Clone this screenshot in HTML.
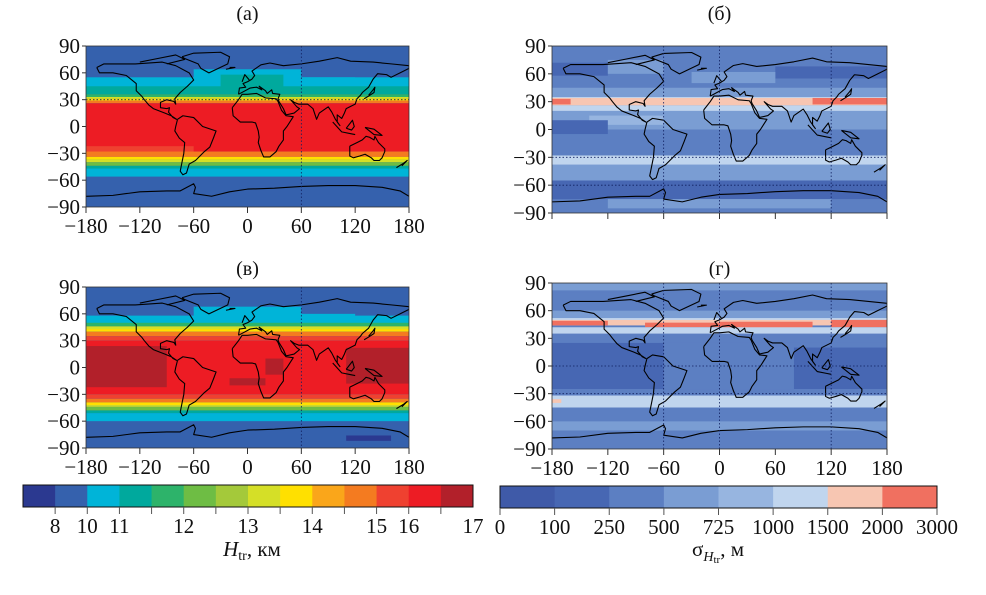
<!DOCTYPE html>
<html><head><meta charset="utf-8">
<style>
html,body{margin:0;padding:0;background:#fff;}
svg{display:block;}
svg text{font-family:"Liberation Serif","Times New Roman",serif;}
</style></head>
<body>
<svg id="fig" width="986" height="595" viewBox="0 0 986 595" xmlns="http://www.w3.org/2000/svg" font-family="Liberation Serif, serif"></svg>
<script>
// ---------- data ----------
const hColors=["#2b3990","#3561ad","#00b4d8","#00a99d","#2db36a","#6ebd44","#a4c93a","#d5df27","#ffe000","#faa61a","#f47b20","#ef4130","#ed1c24","#b2202a"];
const hTickLabels=["","8","10","11","","12","","13","","14","","15","16","","17"];
const sColors=["#3f5aa8","#4767b3","#5c7fc2","#7a9dd3","#97b5e0","#c0d5ee","#f7c6b2","#f07060"];
const sTickLabels=["0","100","250","500","725","1000","1500","2000","3000"];
const lonTicks=[-180,-120,-60,0,60,120,180];
const latTicks=[90,60,30,0,-30,-60,-90];
// bands: [latTop, latBottom, colorIndex, lonStart, lonEnd]
const bandsA=[[90,-90,1,-180,180],[55,42,2,-180,180],[64,45,2,-60,60],[55,40,2,60,120],[45,36,3,-180,180],[58,38,3,-30,40],[36,33,4,-180,180],[33,31,7,-180,180],[31,29,8,-180,180],[29,26,10,-180,180],[26,-28,12,-180,180],[-22,-30,11,-180,-60],[-28,-34,10,-180,180],[-34,-37,8,-180,180],[-37,-40,7,-180,180],[-40,-44,5,-180,180],[-44,-47,3,-180,180],[-47,-56,2,-180,180]];
const bandsC=[[90,-90,1,-180,180],[58,48,2,-180,180],[68,50,2,-60,60],[60,48,2,60,120],[50,46,4,-180,180],[46,43,7,-180,180],[43,40,8,-180,180],[40,35,10,-180,180],[35,30,11,-180,180],[30,-30,12,-180,180],[24,-22,13,-180,-90],[22,-18,13,110,180],[10,-8,13,20,40],[-12,-20,13,-20,20],[-30,-35,11,-180,180],[-35,-39,10,-180,180],[-39,-42,8,-180,180],[-42,-44,7,-180,180],[-44,-48,5,-180,180],[-48,-51,3,-180,180],[-51,-60,2,-180,180],[-76,-82,0,110,160]];
const bandsB=[[90,-90,2,-180,180],[72,58,1,-180,-120],[75,60,3,-120,-60],[68,55,1,60,180],[62,50,3,-30,60],[45,35,3,-180,180],[35,30,5,-180,180],[34,26,6,-180,180],[33,27,7,-180,-160],[34,27,7,100,180],[26,20,5,-180,180],[20,0,3,-180,180],[15,5,4,-140,-60],[10,-5,1,-180,-120],[-5,-28,2,-180,180],[-28,-38,5,-180,180],[-38,-55,3,-180,180],[-55,-75,1,-180,180],[-75,-85,3,-120,120]];
const bandsD=[[90,-90,2,-180,180],[90,82,3,-180,180],[80,62,2,-180,180],[60,52,3,-180,180],[52,48,5,-180,180],[50,44,6,-180,180],[49,44,7,-180,-120],[47,42,7,-80,0],[48,40,7,0,100],[50,42,7,120,180],[42,35,5,-180,180],[35,25,2,-180,180],[25,-25,1,-180,-60],[20,-25,1,80,180],[-25,-32,2,-180,180],[-32,-45,5,-180,180],[-36,-40,6,-180,-170],[-45,-60,2,-180,180],[-60,-70,3,-180,180],[-70,-90,2,-180,180]];
// simplified coastlines (lon,lat)
const coasts=[
[[-168,66],[-160,70],[-140,70],[-125,70],[-95,72],[-80,68],[-65,60],[-60,52],[-67,45],[-75,38],[-81,31],[-80,25],[-82,28],[-90,30],[-97,27],[-97,21],[-90,20],[-87,21],[-88,16],[-83,10],[-79,8],[-85,12],[-92,15],[-105,20],[-110,24],[-115,30],[-118,34],[-124,40],[-124,48],[-135,57],[-150,60],[-165,60],[-168,66]],
[[-78,8],[-72,12],[-60,10],[-50,0],[-35,-5],[-38,-13],[-42,-23],[-48,-28],[-58,-38],[-65,-42],[-68,-52],[-72,-54],[-75,-50],[-73,-40],[-71,-30],[-70,-18],[-76,-13],[-81,-5],[-80,0],[-78,8]],
[[-17,21],[-16,12],[-8,5],[5,5],[9,4],[12,-5],[13,-12],[12,-18],[15,-27],[18,-34],[25,-34],[32,-28],[35,-22],[40,-15],[40,-5],[44,0],[51,11],[43,12],[38,18],[34,28],[32,31],[20,32],[10,37],[0,36],[-6,36],[-10,30],[-17,21]],
[[-10,36],[-9,43],[-2,44],[-5,48],[0,50],[5,53],[8,57],[5,62],[15,69],[25,71],[40,68],[60,70],[80,73],[100,77],[115,73],[140,72],[160,70],[180,68],[180,65],[170,60],[160,55],[155,58],[145,59],[140,53],[135,44],[128,38],[126,35],[122,31],[120,25],[110,20],[108,15],[105,9],[100,13],[100,5],[103,1],[98,8],[94,16],[90,22],[80,15],[77,8],[73,20],[67,25],[57,25],[52,27],[48,30],[55,22],[58,20],[52,15],[43,13],[40,20],[35,28],[34,31],[36,36],[28,37],[27,41],[22,37],[20,40],[13,45],[16,41],[10,44],[3,43],[-10,36]],
[[114,-22],[114,-33],[118,-35],[125,-33],[131,-31],[138,-35],[141,-38],[147,-38],[150,-35],[153,-28],[153,-25],[146,-18],[142,-11],[141,-15],[136,-12],[132,-11],[128,-15],[122,-18],[114,-22]],
[[-73,78],[-60,82],[-30,83],[-20,78],[-22,70],[-43,60],[-52,65],[-55,70],[-70,76],[-73,78]],
[[-180,-78],[-150,-77],[-120,-73],[-90,-72],[-75,-72],[-60,-64],[-58,-68],[-60,-75],[-40,-78],[-20,-73],[0,-70],[30,-69],[60,-67],[90,-66],[120,-66],[150,-68],[170,-72],[180,-78]],
[[95,5],[105,-6],[115,-8],[120,-9]],[[110,-2],[117,7],[119,0],[116,-4],[110,-2]],[[131,-1],[141,-3],[150,-10],[141,-9],[131,-1]],
[[130,31],[135,34],[141,38],[142,44],[140,41],[135,35]],[[-120,72],[-100,76],[-80,80],[-70,75],[-90,70]],[[166,-46],[174,-41],[178,-38],[172,-44]],[[-6,50],[-3,58],[2,52]],[[-24,64],[-14,66],[-20,66]]
];
const panels=[
 {id:"a",title:"(а)",ty:20,x0:86,x1:409,y0:46,y1:207,bands:bandsA,pal:hColors,xlab:true,vg:[60],hg:[30]},
 {id:"b",title:"(б)",ty:20,x0:552,x1:887,y0:46,y1:213,bands:bandsB,pal:sColors,xlab:false,vg:[-60,0,120],hg:[-30,-60]},
 {id:"c",title:"(в)",ty:275,x0:86,x1:409,y0:287,y1:448,bands:bandsC,pal:hColors,xlab:true,vg:[60],hg:[]},
 {id:"d",title:"(г)",ty:275,x0:552,x1:887,y0:283,y1:449,bands:bandsD,pal:sColors,xlab:true,vg:[-60,0,120],hg:[0,-30]}
];
const NS="http://www.w3.org/2000/svg";
const svg=document.getElementById('fig');
function mk(tag,attrs,parent){const e=document.createElementNS(NS,tag);for(const k in attrs)e.setAttribute(k,attrs[k]);(parent||svg).appendChild(e);return e;}
function txt(s,x,y,size,anchor,parent){const t=mk('text',{x:x,y:y,'font-size':size,'text-anchor':anchor||'middle',fill:'#111','font-family':'Liberation Serif, serif'},parent);t.textContent=s;return t;}

panels.forEach(p=>{
 const xS=lon=>p.x0+(lon+180)/360*(p.x1-p.x0);
 const yS=lat=>p.y0+(90-lat)/180*(p.y1-p.y0);
 const g=mk('g',{});
 
 
 const cp=mk('clipPath',{id:'clip'+p.id},g);
 mk('rect',{x:p.x0,y:p.y0,width:p.x1-p.x0,height:p.y1-p.y0},cp);
 const fg=mk('g',{'clip-path':'url(#clip'+p.id+')'},g);
 p.bands.forEach(b=>{
  const r=mk('rect',{x:xS(b[3]),y:yS(b[0]),width:xS(b[4])-xS(b[3]),height:yS(b[1])-yS(b[0]),fill:p.pal[b[2]]},fg);
  
  
 });
 coasts.forEach(c=>{
  const pl=mk('polyline',{points:c.map(q=>xS(q[0])+','+yS(q[1])).join(' '),fill:'none',stroke:'#000','stroke-width':1.1,'stroke-linejoin':'round'},fg);
  
  
 });
 p.vg.forEach(v=>{mk('line',{x1:xS(v),x2:xS(v),y1:p.y0,y2:p.y1,stroke:'#102060','stroke-width':0.8,'stroke-dasharray':'1.5,2'},fg);});
 p.hg.forEach(v=>{mk('line',{x1:p.x0,x2:p.x1,y1:yS(v),y2:yS(v),stroke:'#102060','stroke-width':0.8,'stroke-dasharray':'1.5,2'},fg);});
 mk('rect',{x:p.x0,y:p.y0,width:p.x1-p.x0,height:p.y1-p.y0,fill:'none',stroke:'#333','stroke-width':0.8},g);
 const tt=txt(p.title,(p.x0+p.x1)/2,p.ty,20,'middle',g);
 
 
 latTicks.forEach(l=>{
  mk('line',{x1:p.x0-4,x2:p.x0,y1:yS(l),y2:yS(l),stroke:'#333'},g);
  const t=txt(l<0?'\u2212'+(-l):String(l),p.x0-6,yS(l)+7,21,'end',g);
  
  
 });
 lonTicks.forEach(l=>{
  mk('line',{x1:xS(l),x2:xS(l),y1:p.y1,y2:p.y1+6,stroke:'#333'},g);
  if(p.xlab){
   const t=txt(l<0?'\u2212'+(-l):String(l),xS(l),p.y1+26,21,'middle',g);
   
   
  }
 });
});

function colorbar(pal,labels,x0,x1,y0,y1,name){
 const g=mk('g',{});
 
 
 const w=(x1-x0)/pal.length;
 pal.forEach((c,i)=>{mk('rect',{x:x0+i*w,y:y0,width:w+0.5,height:y1-y0,fill:c},g);});
 mk('rect',{x:x0,y:y0,width:x1-x0,height:y1-y0,fill:'none',stroke:'#111','stroke-width':1},g);
 labels.forEach((s,i)=>{
  const x=x0+i*w;
  if(i>0&&i<labels.length-1||pal===sColors) mk('line',{x1:x,x2:x,y1:y1,y2:y1+7,stroke:'#555'},g);
  if(s){const t=txt(s,x,y1+26,21,'middle',g);
   
   }
 });
 return g;
}
colorbar(hColors,hTickLabels,23,473,485,507,'colorbar-height');
colorbar(sColors,sTickLabels,500,937,486,508,'colorbar-sigma');
const l1=mk('text',{x:252,y:556,'font-size':21,'text-anchor':'middle',fill:'#111','font-family':'Liberation Serif, serif'});


l1.innerHTML='<tspan font-style="italic">H</tspan><tspan font-size="14" dy="4">tr</tspan><tspan dy="-4">, км</tspan>';
const l2=mk('text',{x:718,y:556,'font-size':21,'text-anchor':'middle',fill:'#111','font-family':'Liberation Serif, serif'});


l2.innerHTML='σ<tspan font-size="14" font-style="italic" dy="5">H</tspan><tspan font-size="11" dy="2">tr</tspan><tspan dy="-7">, м</tspan>';
</script>
</body></html>
